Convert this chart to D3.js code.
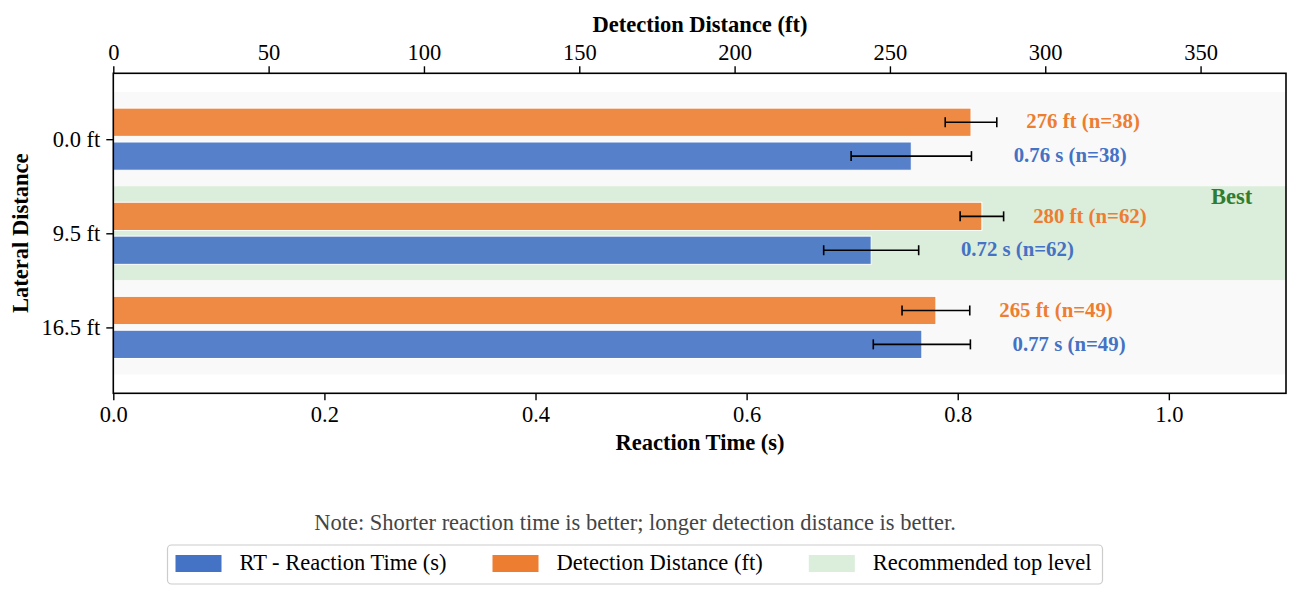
<!DOCTYPE html>
<html>
<head>
<meta charset="utf-8">
<script src="https://cdn.jsdelivr.net/npm/d3@7"></script>
<style>
  body { margin: 0; background: #fff; }
  svg { font-family: "Liberation Serif", "Times New Roman", serif; }
</style>
</head>
<body>
<svg id="chart" width="1300" height="598"></svg>
<script>
// data
var categories = ["0.0 ft", "9.5 ft", "16.5 ft"];
var rtValues = [0.756, 0.718, 0.766];
var rtErr = [0.057, 0.045, 0.046];
var distValues = [276.1, 279.6, 264.8];
var distErr = [8.3, 7.0, 10.9];
var sampleN = [38, 62, 49];
var rtTicks = [0, 0.2, 0.4, 0.6, 0.8, 1.0];
var distTicks = [0, 50, 100, 150, 200, 250, 300, 350];
var bestIndex = 1;

(function() {
    var blue = "#4472c4",
        orange = "#ed7d31",
        green = "#2e7d32",
        bandGreen = "#dbeddb",
        bandGray = "#f9f9f9",
        fs = "22.5px",
        labelFs = "20.8px";

    var mLeft = 113.3, mRight = 1286, mTop = 73.3, mBottom = 393.3;
    var svg = d3.select("#chart");

    var xRt = d3.scaleLinear().domain([0, 1.111]).range([mLeft, mRight]);
    var xDist = d3.scaleLinear().domain([0, 377.5]).range([mLeft, mRight]);
    var y = d3.scaleLinear().domain([-0.7, 2.7]).range([mTop, mBottom]);

    var barH = y(0.3) - y(0);
    var rows = categories.map(function(c, i) {
        return { cat: c, i: i, rt: rtValues[i], rtE: rtErr[i], dist: distValues[i], distE: distErr[i], n: sampleN[i] };
    });

    // background bands, the recommended level in green
    svg.append("g").selectAll("rect")
        .data(rows)
        .enter()
        .append("rect")
        .attr("x", mLeft)
        .attr("width", mRight - mLeft)
        .attr("y", function(d) { return y(d.i - 0.5); })
        .attr("height", y(1) - y(0))
        .attr("fill", function(d) { return d.i === bestIndex ? bandGreen : bandGray; });

    // bars
    var g = svg.append("g");
    g.selectAll(".dist")
        .data(rows)
        .enter()
        .append("rect")
        .attr("class", "dist")
        .attr("x", xDist(0))
        .attr("y", function(d) { return y(d.i - 0.18) - barH / 2; })
        .attr("width", function(d) { return xDist(d.dist) - xDist(0); })
        .attr("height", barH)
        .attr("fill", orange)
        .attr("fill-opacity", 0.9)
        .attr("stroke", "#fff")
        .attr("stroke-width", 1);

    g.selectAll(".rt")
        .data(rows)
        .enter()
        .append("rect")
        .attr("class", "rt")
        .attr("x", xRt(0))
        .attr("y", function(d) { return y(d.i + 0.18) - barH / 2; })
        .attr("width", function(d) { return xRt(d.rt) - xRt(0); })
        .attr("height", barH)
        .attr("fill", blue)
        .attr("fill-opacity", 0.9)
        .attr("stroke", "#fff")
        .attr("stroke-width", 1);

    // error bars
    function errBar(x0, x1, yc) {
        var e = svg.append("g").attr("stroke", "#000").attr("stroke-width", 1.6);
        e.append("line").attr("x1", x0).attr("x2", x1).attr("y1", yc).attr("y2", yc);
        e.append("line").attr("x1", x0).attr("x2", x0).attr("y1", yc - 5).attr("y2", yc + 5);
        e.append("line").attr("x1", x1).attr("x2", x1).attr("y1", yc - 5).attr("y2", yc + 5);
    }
    rows.forEach(function(d) {
        errBar(xDist(d.dist - d.distE), xDist(d.dist + d.distE), y(d.i - 0.18));
        errBar(xRt(d.rt - d.rtE), xRt(d.rt + d.rtE), y(d.i + 0.18));
    });

    // value labels
    var fmt2 = d3.format(".2f"), fmt0 = d3.format(".0f");
    svg.append("g").selectAll("text")
        .data(rows)
        .enter()
        .append("text")
        .attr("x", function(d) { return xDist(d.dist + d.distE + 9.5); })
        .attr("y", function(d) { return y(d.i - 0.18); })
        .attr("dy", "0.3em")
        .attr("fill", orange)
        .style("font-size", labelFs)
        .style("font-weight", "bold")
        .text(function(d) { return fmt0(d.dist) + " ft (n=" + d.n + ")"; });

    svg.append("g").selectAll("text")
        .data(rows)
        .enter()
        .append("text")
        .attr("x", function(d) { return xRt(d.rt + d.rtE + 0.04); })
        .attr("y", function(d) { return y(d.i + 0.18); })
        .attr("dy", "0.3em")
        .attr("fill", blue)
        .style("font-size", labelFs)
        .style("font-weight", "bold")
        .text(function(d) { return fmt2(d.rt) + " s (n=" + d.n + ")"; });

    svg.append("text")
        .attr("x", xRt(1.04))
        .attr("y", y(bestIndex - 0.4))
        .attr("dy", "0.35em")
        .attr("fill", green)
        .style("font-size", fs)
        .style("font-weight", "bold")
        .text("Best");

    // axes
    var bottomAxis = d3.axisBottom(xRt).tickValues(rtTicks).tickFormat(d3.format(".1f")).tickSize(7).tickPadding(6);
    var topAxis = d3.axisTop(xDist).tickValues(distTicks).tickFormat(d3.format("d")).tickSize(7).tickPadding(6);
    var leftAxis = d3.axisLeft(y).tickValues(d3.range(categories.length))
        .tickFormat(function(i) { return categories[i]; }).tickSize(7).tickPadding(6);

    function styleAxis(sel) {
        sel.select(".domain").remove();
        sel.selectAll(".tick line").attr("stroke", "#000").attr("stroke-width", 1.4);
        sel.selectAll(".tick text").attr("fill", "#000")
            .style("font-size", fs)
            .style("font-family", "Liberation Serif, serif");
    }
    svg.append("g").attr("transform", "translate(0," + mBottom + ")").call(bottomAxis).call(styleAxis);
    svg.append("g").attr("transform", "translate(0," + mTop + ")").call(topAxis).call(styleAxis);
    svg.append("g").attr("transform", "translate(" + mLeft + ",0)").call(leftAxis).call(styleAxis);

    // frame
    svg.append("rect")
        .attr("x", mLeft).attr("y", mTop)
        .attr("width", mRight - mLeft).attr("height", mBottom - mTop)
        .attr("fill", "none").attr("stroke", "#000").attr("stroke-width", 1.6);

    // axis titles
    svg.append("text")
        .attr("x", 700).attr("y", 32)
        .attr("text-anchor", "middle")
        .style("font-size", fs).style("font-weight", "bold")
        .text("Detection Distance (ft)");

    svg.append("text")
        .attr("x", 700).attr("y", 450)
        .attr("text-anchor", "middle")
        .style("font-size", fs).style("font-weight", "bold")
        .text("Reaction Time (s)");

    svg.append("text")
        .attr("transform", "translate(28," + (mTop + mBottom) / 2 + ") rotate(-90)")
        .attr("text-anchor", "middle")
        .style("font-size", fs).style("font-weight", "bold")
        .text("Lateral Distance");

    // note
    svg.append("text")
        .attr("x", 635).attr("y", 530)
        .attr("text-anchor", "middle")
        .attr("fill", "#444")
        .style("font-size", fs)
        .text("Note: Shorter reaction time is better; longer detection distance is better.");

    // legend
    var legendItems = [
        { label: "RT - Reaction Time (s)", color: blue, x: 175.5 },
        { label: "Detection Distance (ft)", color: orange, x: 492.5 },
        { label: "Recommended top level", color: bandGreen, x: 808.8 }
    ];
    var lg = svg.append("g");
    lg.append("rect")
        .attr("x", 167.5).attr("y", 545)
        .attr("width", 935).attr("height", 39)
        .attr("rx", 4)
        .attr("fill", "#fff")
        .attr("stroke", "#cccccc")
        .attr("stroke-width", 1.2);
    var li = lg.selectAll(".li")
        .data(legendItems)
        .enter()
        .append("g")
        .attr("class", "li");
    li.append("rect")
        .attr("x", function(d) { return d.x; })
        .attr("y", 555)
        .attr("width", 46)
        .attr("height", 17)
        .attr("fill", function(d) { return d.color; });
    li.append("text")
        .attr("x", function(d) { return d.x + 64; })
        .attr("y", 570)
        .style("font-size", fs)
        .text(function(d) { return d.label; });
})();
</script>
</body>
</html>
